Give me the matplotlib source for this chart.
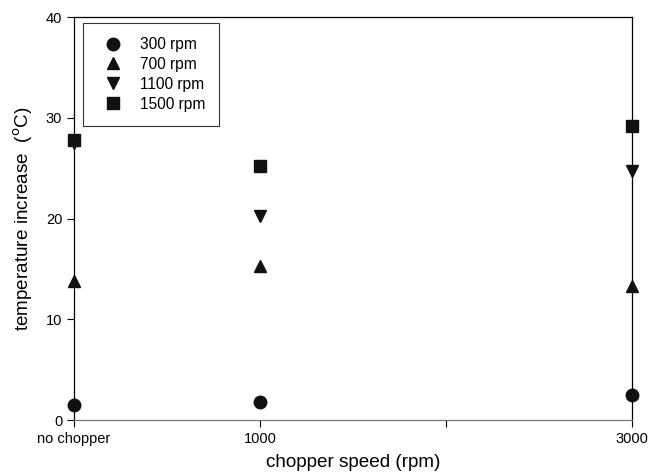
import matplotlib.pyplot as plt

plt.rcParams['font.family'] = ['Liberation Sans', 'DejaVu Sans']

x_pos = [0, 1, 3]
tick_pos = [0, 1, 2, 3]
tick_labels = ['no chopper', '1000', '', '3000']

rpm_300 = [1.5, 1.8, 2.5]
rpm_700 = [13.8, 15.3, 13.3]
rpm_1100 = [27.5, 20.3, 24.7]
rpm_1500 = [27.8, 25.2, 29.2]

fig = plt.figure(figsize=(6.53, 4.73), dpi=100)
ax = fig.add_axes([0.1133, 0.112, 0.8545, 0.852])

ax.plot(x_pos, rpm_300, 'o', color='#111111', markersize=9, label='300 rpm', clip_on=False, zorder=3)
ax.plot(x_pos, rpm_700, '^', color='#111111', markersize=8.5, label='700 rpm', clip_on=False, zorder=3)
ax.plot(x_pos, rpm_1100, 'v', color='#111111', markersize=8.5, label='1100 rpm', clip_on=False, zorder=3)
ax.plot(x_pos, rpm_1500, 's', color='#111111', markersize=8, label='1500 rpm', clip_on=False, zorder=3)

ax.set_xlim(0, 3)
ax.set_ylim(0, 40)
ax.set_xticks(tick_pos)
ax.set_xticklabels(tick_labels, fontsize=10.5)
ax.set_yticks([0, 10, 20, 30, 40])
ax.tick_params(axis='y', labelsize=10.5, direction='out', length=5, width=0.8)
ax.tick_params(axis='x', direction='out', length=5, width=0.8)
for s in ax.spines.values():
    s.set_linewidth(0.9)
ax.spines['bottom'].set_color('#777777')

ax.set_xlabel('chopper speed (rpm)', fontsize=13.6, labelpad=6)
ax.set_ylabel('temperature increase  ($^{\\rm o}$C)', fontsize=13.6, labelpad=8)

leg = ax.legend(loc='upper left', bbox_to_anchor=(0.016, 0.985), fontsize=11.2,
                frameon=True, fancybox=False, edgecolor='black', handletextpad=0.7,
                borderpad=0.9, labelspacing=0.31, handlelength=2.05, borderaxespad=0)
leg.get_frame().set_linewidth(0.8)

fig.savefig('out.png', dpi=100)
